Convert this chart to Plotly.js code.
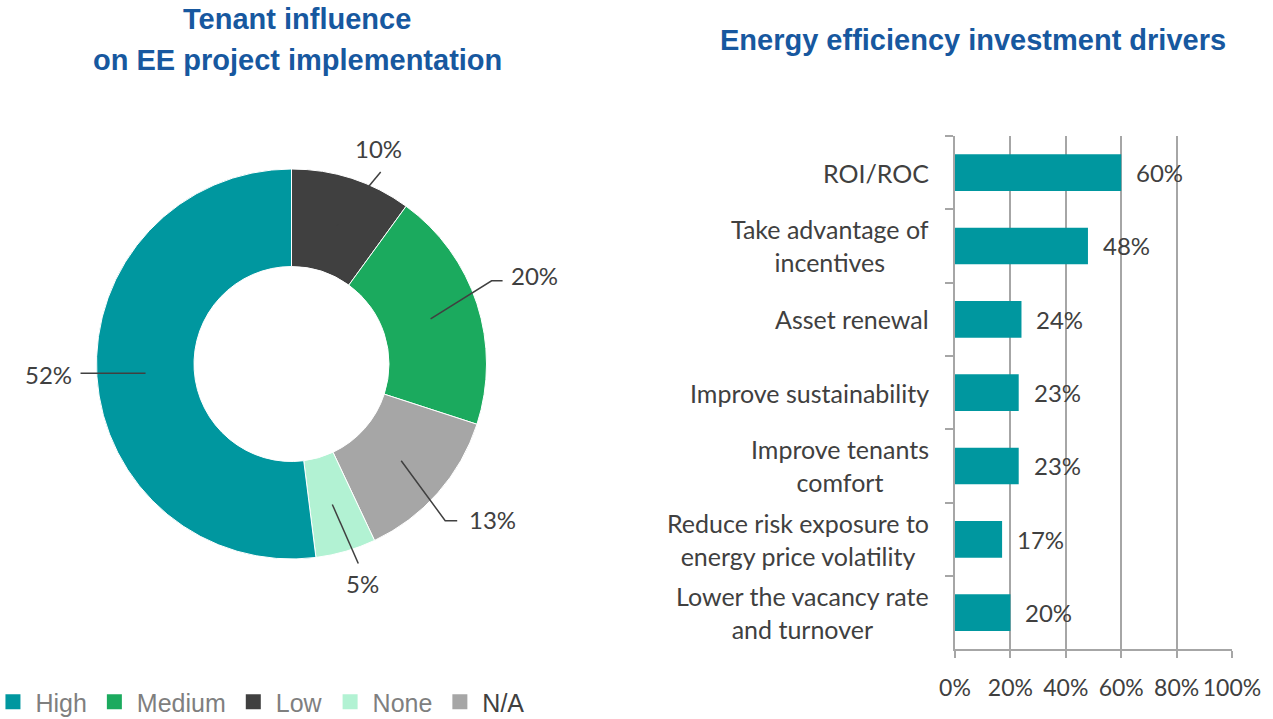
<!DOCTYPE html>
<html>
<head>
<meta charset="utf-8">
<script src="https://cdn.plot.ly/plotly-3.0.1.min.js"></script>
<style>html,body{margin:0;padding:0;background:#fff;}#chart{width:1273px;height:719px;}</style>
</head>
<body>
<div id="chart"></div>
<script>
// ---- Data ----
const pieTitle = ['Tenant influence', 'on EE project implementation'];
const barTitle = 'Energy efficiency investment drivers';
// slices in clockwise order from 12 o'clock
const pieLabels = ['Low', 'Medium', 'N/A', 'None', 'High'];
const pieValues = [10, 20, 13, 5, 52];
const legendOrder = ['High', 'Medium', 'Low', 'None', 'N/A'];

const barCategories = [
  'ROI/ROC',
  'Take advantage of<br>incentives',
  'Asset renewal',
  'Improve sustainability',
  'Improve tenants<br>comfort',
  'Reduce risk exposure to<br>energy price volatility',
  'Lower the vacancy rate<br>and turnover'
];
const barValues = [0.60, 0.48, 0.24, 0.23, 0.23, 0.17, 0.20];
const xTickVals = [0, 0.2, 0.4, 0.6, 0.8, 1.0];
const xTickText = ['0%', '20%', '40%', '60%', '80%', '100%'];

// ---- Styles ----
const W = 1273, H = 719;
const colors = {High: '#00979F', Medium: '#1BAA5E', Low: '#404040', None: '#B2F2D3', 'N/A': '#A6A6A6'};
const titleColor = '#17589F';
const textColor = '#404040';
const gridColor = '#A6A6A6';
const labelFont = 'Lato, "Open Sans", sans-serif';
const titleFont = 'Liberation Sans, Arial, sans-serif';

const pieDomX = [96.5 / W, 486.5 / W];
const pieDomY = [(H - 559) / H, (H - 169) / H];
const hole = 0.5;

// leader geometry per slice (pixel offsets), same order as pieLabels
const leaders = [
  {d: [44, -53], elbow: 0,   anchor: 'top',    shift: [-2, 7]},
  {d: [61, -38], elbow: 11,  anchor: 'right',  shift: [6, 5]},
  {d: [44, 60],  elbow: 12,  anchor: 'right',  shift: [10, 1]},
  {d: [26, 59],  elbow: 0,   anchor: 'bottom', shift: [4, -4]},
  {d: [-65, 0],  elbow: 0,   anchor: 'left',   shift: [-7, -1]}
];

const traces = [];
traces.push({
  type: 'pie',
  labels: pieLabels,
  values: pieValues,
  sort: false,
  direction: 'clockwise',
  rotation: 0,
  hole: hole,
  domain: {x: pieDomX, y: pieDomY},
  marker: {colors: pieLabels.map(l => colors[l]), line: {color: '#ffffff', width: 1}},
  textinfo: 'none',
  showlegend: false,
  hoverinfo: 'label+percent'
});

traces.push({
  type: 'bar',
  orientation: 'h',
  y: barCategories,
  x: barValues,
  marker: {color: '#00979F'},
  showlegend: false,
  hoverinfo: 'x+y',
  xaxis: 'x', yaxis: 'y'
});

// legend entries (in legend order)
legendOrder.forEach(l => {
  traces.push({
    type: 'scatter', mode: 'markers',
    x: [null], y: [null],
    name: l === 'N/A' ? '<span style="color:#404040">N/A</span>' : l,
    marker: {symbol: 'square', size: 15, color: colors[l]},
    showlegend: true, hoverinfo: 'skip',
    xaxis: 'x', yaxis: 'y'
  });
});

const annotations = [];
const shapes = [];

// titles
annotations.push({xref: 'paper', yref: 'paper', x: 297 / W, y: 1 - 19 / H, xanchor: 'center', yanchor: 'middle',
  text: '<b>' + pieTitle[0] + '</b>', showarrow: false, font: {family: titleFont, size: 29, color: titleColor}});
annotations.push({xref: 'paper', yref: 'paper', x: 297 / W, y: 1 - 60 / H, xanchor: 'center', yanchor: 'middle',
  text: '<b>' + pieTitle[1] + '</b>', showarrow: false, font: {family: titleFont, size: 29, color: titleColor}});
annotations.push({xref: 'paper', yref: 'paper', x: 973 / W, y: 1 - 40 / H, xanchor: 'center', yanchor: 'middle',
  text: '<b>' + barTitle + '</b>', showarrow: false, font: {family: titleFont, size: 29, color: titleColor}});

// pie leader lines and labels computed from slice angles
const total = pieValues.reduce((a, b) => a + b, 0);
const cx = W * (pieDomX[0] + pieDomX[1]) / 2;
const cy = H * (1 - (pieDomY[0] + pieDomY[1]) / 2);
const R = Math.min(W * (pieDomX[1] - pieDomX[0]), H * (pieDomY[1] - pieDomY[0])) / 2;
const rMid = R * (1 + hole) / 2;
let cum = 0;
pieValues.forEach((v, i) => {
  const th = 2 * Math.PI * (cum + v / 2) / total;
  cum += v;
  const px = cx + rMid * Math.sin(th), py = cy - rMid * Math.cos(th);
  const g = leaders[i];
  const ex = px + g.d[0], ey = py + g.d[1];
  const fx = ex + g.elbow, fy = ey;
  const toP = (x, y) => [x / W, 1 - y / H];
  const a = toP(px, py), b = toP(ex, ey), c = toP(fx, fy);
  shapes.push({type: 'path', xref: 'paper', yref: 'paper',
    path: `M ${a[0]},${a[1]} L ${b[0]},${b[1]} L ${c[0]},${c[1]}`,
    line: {color: textColor, width: 1.5}});
  const lab = Math.round(v / total * 100) + '%';
  const ann = {xref: 'paper', yref: 'paper', x: c[0], y: c[1], text: lab, showarrow: false,
    font: {family: labelFont, size: 24, color: textColor}, xshift: g.shift[0], yshift: g.shift[1]};
  if (g.anchor === 'top') { ann.xanchor = 'center'; ann.yanchor = 'bottom'; }
  if (g.anchor === 'bottom') { ann.xanchor = 'center'; ann.yanchor = 'top'; }
  if (g.anchor === 'right') { ann.xanchor = 'left'; ann.yanchor = 'middle'; }
  if (g.anchor === 'left') { ann.xanchor = 'right'; ann.yanchor = 'middle'; }
  annotations.push(ann);
});

// bar category labels and value labels
const xDom = [955 / W, 1232 / W];
const yDom = [(H - 649.3) / H, (H - 136) / H];
barCategories.forEach((c, i) => {
  annotations.push({xref: 'paper', yref: 'y', x: xDom[0], y: c, xanchor: 'right', yanchor: 'middle',
    xshift: -24, align: 'center', text: c, showarrow: false,
    font: {family: labelFont, size: 25, color: textColor}});
  annotations.push({xref: 'x', yref: 'y', x: barValues[i], y: c, xanchor: 'left', yanchor: 'middle',
    xshift: 13, text: Math.round(barValues[i] * 100) + '%', showarrow: false,
    font: {family: labelFont, size: 24, color: textColor}});
});

const layout = {
  width: W, height: H,
  margin: {l: 0, r: 0, t: 0, b: 0, autoexpand: false},
  paper_bgcolor: '#ffffff', plot_bgcolor: '#ffffff',
  showlegend: true,
  legend: {orientation: 'h', x: -0.0075, xanchor: 'left', y: 1 - 702 / H, yanchor: 'middle',
    font: {family: titleFont, size: 25, color: '#7F7F7F'},
    itemwidth: 35, tracegroupgap: 0, bgcolor: 'rgba(0,0,0,0)'},
  bargap: 0.5,
  xaxis: {domain: xDom, range: [0, 1], tickvals: xTickVals, ticktext: xTickText,
    showgrid: true, gridcolor: gridColor, gridwidth: 2, zeroline: false,
    showline: true, linecolor: gridColor, linewidth: 2,
    ticks: 'outside', ticklen: 7, tickwidth: 2, tickcolor: gridColor,
    tickfont: {family: labelFont, size: 23, color: textColor}, ticklabelstandoff: 10, fixedrange: true},
  yaxis: {domain: yDom, type: 'category', categoryarray: barCategories, categoryorder: 'array',
    autorange: 'reversed', showticklabels: false, showgrid: false, zeroline: false,
    showline: true, linecolor: gridColor, linewidth: 2,
    ticks: 'outside', tickson: 'boundaries', ticklen: 8, tickwidth: 2, tickcolor: gridColor, fixedrange: true},
  annotations: annotations,
  shapes: shapes,
  hovermode: false
};

Plotly.newPlot('chart', traces, layout, {displayModeBar: false, staticPlot: true});
</script>
</body>
</html>
